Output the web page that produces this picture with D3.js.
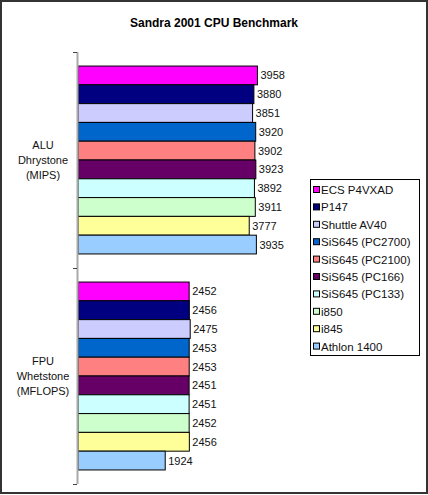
<!DOCTYPE html>
<html>
<head>
<meta charset="utf-8" />
<title>Sandra 2001 CPU Benchmark</title>
<script src="https://cdn.jsdelivr.net/npm/d3@7"></script>
<style>
	body { margin: 0; background: #fff; }
	svg { display: block; font-family: 'Liberation Sans', Arial, sans-serif; }
	.bar { stroke: #000; stroke-width: 1px; }
	.val { font-size: 11px; fill: #111; }
	.cat { font-size: 11px; fill: #111; }
	.leg { font-size: 11.5px; fill: #111; }
</style>
</head>
<body>
<svg id="chart"></svg>
<script>
	// chart data
	const categories = [
		['ALU', 'Dhrystone', '(MIPS)'],
		['FPU', 'Whetstone', '(MFLOPS)']
	];
	const series = [
		'ECS P4VXAD', 'P147', 'Shuttle AV40', 'SiS645 (PC2700)', 'SiS645 (PC2100)',
		'SiS645 (PC166)', 'SiS645 (PC133)', 'i850', 'i845', 'Athlon 1400'
	];
	const aluValues = [3958, 3880, 3851, 3920, 3902, 3923, 3892, 3911, 3777, 3935];
	const fpuValues = [2452, 2456, 2475, 2453, 2453, 2451, 2451, 2452, 2456, 1924];
	const colors = [
		'#ff00ff', '#000080', '#ccccff', '#0066cc', '#ff8080',
		'#660066', '#ccffff', '#ccffcc', '#ffff99', '#99ccff'
	];

	const width = 428, height = 495;
	const svg = d3.select('#chart').attr('width', width).attr('height', height);

	// outer frame
	svg.append('rect')
		.attr('x', 1).attr('y', 1)
		.attr('width', width - 2).attr('height', height - 3)
		.attr('fill', '#fff').attr('stroke', '#333').attr('stroke-width', 2);

	svg.append('text')
		.attr('x', 214).attr('y', 27)
		.attr('text-anchor', 'middle')
		.style('font-size', '12px').style('font-weight', 'bold')
		.text('Sandra 2001 CPU Benchmark');

	const catKeys = categories.map((c) => c.join(' '));
	const y0 = d3.scaleBand().domain(catKeys).range([52, 484]);
	const gap = y0.bandwidth() * 0.065;
	const y1 = d3.scaleBand().domain(series).range([gap, y0.bandwidth() - gap]);
	const x = d3.scaleLinear().domain([0, 4500]).range([78, 282]);

	const rows = [aluValues, fpuValues];

	const groups = svg.selectAll('.group')
		.data(categories)
		.enter().append('g')
		.attr('class', 'group')
		.attr('transform', (d, i) => `translate(0,${y0(catKeys[i])})`);

	groups.each(function (cat, ci) {
		const g = d3.select(this);
		const data = rows[ci].map((v, i) => ({ name: series[i], value: v, color: colors[i] }));

		g.selectAll('rect')
			.data(data)
			.enter().append('rect')
			.attr('class', 'bar')
			.attr('x', x(0))
			.attr('y', (d) => y1(d.name))
			.attr('width', (d) => x(d.value) - x(0))
			.attr('height', y1.bandwidth())
			.attr('fill', (d) => d.color);

		g.selectAll('.val')
			.data(data)
			.enter().append('text')
			.attr('class', 'val')
			.attr('x', (d) => x(d.value) + 3)
			.attr('y', (d) => y1(d.name) + y1.bandwidth() / 2 + 4)
			.text((d) => d.value);

		const lab = g.append('text')
			.attr('class', 'cat')
			.attr('text-anchor', 'middle')
			.attr('x', 43)
			.attr('y', y0.bandwidth() / 2 - 15 + 4);
		cat.forEach((line, li) => {
			lab.append('tspan').attr('x', 43).attr('dy', li === 0 ? 0 : 15).text(line);
		});
	});

	// category axis
	svg.append('line')
		.attr('x1', 77.5).attr('x2', 77.5)
		.attr('y1', y0.range()[0]).attr('y2', y0.range()[1])
		.attr('stroke', '#aaa').attr('stroke-width', 2);
	const ticks = [y0.range()[0], y0(catKeys[1]), y0.range()[1]];
	svg.selectAll('.tick')
		.data(ticks)
		.enter().append('line')
		.attr('x1', 73).attr('x2', 77)
		.attr('y1', (d) => d + 0.5).attr('y2', (d) => d + 0.5)
		.attr('stroke', '#444');

	// legend
	const legend = svg.append('g').attr('transform', 'translate(310,179)');
	legend.append('rect')
		.attr('x', 0.5).attr('y', 0.5)
		.attr('width', 109).attr('height', 176)
		.attr('fill', '#fff').attr('stroke', '#000');
	const items = legend.selectAll('.item')
		.data(series)
		.enter().append('g')
		.attr('transform', (d, i) => `translate(0,${11 + i * 17.4})`);
	items.append('rect')
		.attr('x', 3.5).attr('y', -3.5)
		.attr('width', 6).attr('height', 6)
		.attr('fill', (d, i) => colors[i])
		.attr('stroke', '#000');
	items.append('text')
		.attr('class', 'leg')
		.attr('x', 11).attr('y', 4)
		.text((d) => d);
</script>
</body>
</html>
